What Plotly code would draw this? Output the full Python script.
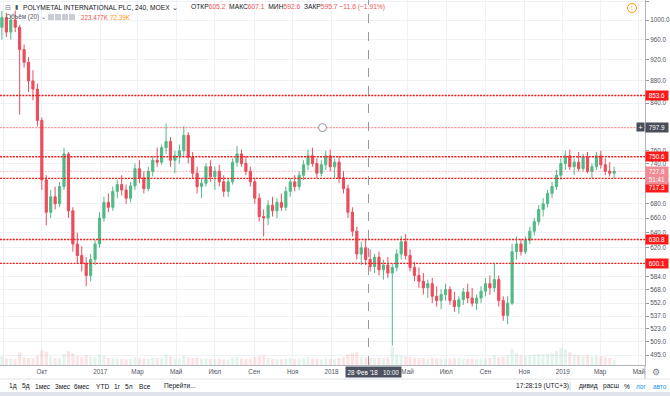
import numpy as np
import pandas as pd
import plotly.graph_objects as go

# ---------------- data (weekly approximation of the 4H chart) ----------------
first_bar = "2016-07-30"
opens = [985, 1005, 975, 1000, 985, 940, 915, 880, 865, 810, 715, 668, 690, 680, 705, 755, 670, 625, 610, 600,
         585, 605, 625, 660, 682, 675, 698, 708, 700, 688, 706, 732, 718, 702, 728, 745, 742, 765, 775, 745,
         752, 760, 785, 750, 725, 705, 710, 735, 720, 728, 712, 698, 712, 742, 755, 740, 728, 712, 688, 662,
         660, 678, 670, 682, 675, 698, 712, 705, 722, 738, 752, 740, 725, 738, 752, 735, 742, 718, 702, 668,
         642, 612, 620, 605, 596, 608, 592, 598, 588, 595, 612, 628, 610, 595, 585, 578, 570, 575, 560, 555,
         562, 568, 555, 548, 556, 565, 558, 552, 558, 566, 575, 570, 580, 555, 538, 552, 615, 625, 615, 630,
         642, 655, 672, 680, 695, 705, 722, 740, 752, 735, 742, 732, 750, 728, 735, 752, 738, 728, 725]
highs = [1020, 1015, 1010, 1020, 990, 950, 925, 900, 875, 815, 722, 700, 705, 712, 765, 758, 675, 640, 622, 608,
         612, 630, 668, 690, 695, 705, 715, 722, 708, 712, 740, 745, 728, 735, 752, 765, 770, 805, 782, 760,
         770, 800, 790, 758, 735, 718, 740, 745, 735, 738, 722, 718, 748, 768, 762, 752, 735, 718, 695, 672,
         685, 690, 688, 695, 705, 718, 722, 728, 745, 762, 765, 748, 745, 760, 762, 748, 752, 728, 708, 675,
         648, 628, 632, 618, 612, 615, 605, 608, 600, 618, 636, 638, 618, 602, 595, 588, 580, 582, 572, 568,
         575, 572, 565, 560, 570, 575, 570, 562, 572, 582, 585, 600, 585, 560, 560, 625, 635, 632, 635, 648,
         660, 678, 688, 700, 712, 730, 748, 760, 762, 748, 758, 755, 758, 740, 758, 760, 748, 742, 735]
lows = [960, 965, 960, 975, 820, 905, 860, 845, 800, 700, 650, 660, 672, 675, 700, 660, 615, 600, 590, 572,
        578, 598, 620, 655, 668, 670, 688, 692, 680, 682, 700, 710, 695, 698, 720, 735, 738, 755, 735, 725,
        740, 752, 740, 718, 695, 688, 705, 712, 700, 705, 690, 690, 708, 735, 735, 722, 705, 680, 655, 635,
        650, 662, 660, 670, 670, 690, 698, 700, 715, 730, 735, 718, 720, 730, 728, 718, 710, 695, 660, 635,
        605, 598, 598, 590, 588, 585, 580, 582, 505, 590, 605, 605, 590, 578, 570, 562, 558, 552, 548, 545,
        555, 550, 542, 540, 550, 552, 548, 544, 552, 560, 562, 565, 548, 532, 528, 550, 605, 610, 612, 625,
        636, 650, 662, 675, 688, 700, 715, 730, 730, 722, 728, 728, 725, 718, 730, 732, 722, 720, 718]
closes = [1005, 975, 1000, 985, 940, 915, 880, 865, 810, 715, 668, 690, 680, 705, 755, 670, 625, 610, 600, 585,
          605, 625, 660, 682, 675, 698, 708, 700, 688, 706, 732, 718, 702, 728, 745, 742, 765, 775, 745, 752,
          760, 785, 750, 725, 705, 710, 735, 720, 728, 712, 698, 712, 742, 755, 740, 728, 712, 688, 662, 660,
          678, 670, 682, 675, 698, 712, 705, 722, 738, 752, 740, 725, 738, 752, 735, 742, 718, 702, 668, 642,
          612, 620, 605, 596, 608, 592, 598, 588, 595, 612, 628, 610, 595, 585, 578, 570, 575, 560, 555, 562,
          568, 555, 548, 556, 565, 558, 552, 558, 566, 575, 570, 580, 555, 538, 552, 615, 625, 615, 630, 642,
          655, 672, 680, 695, 705, 722, 740, 752, 735, 742, 732, 750, 728, 735, 752, 738, 728, 725, 727.8]
volumes = [120, 95, 90, 85, 180, 110, 100, 95, 130, 210,
           190, 120, 100, 95, 160, 200, 170, 130, 110, 140,
           120, 110, 150, 130, 100, 95, 90, 85, 80, 85,
           110, 95, 90, 85, 100, 95, 105, 150, 120, 95,
           90, 130, 110, 100, 105, 90, 95, 85, 80, 85,
           80, 75, 100, 110, 90, 85, 90, 110, 130, 140,
           100, 85, 80, 85, 90, 95, 85, 90, 100, 110,
           95, 90, 85, 95, 90, 85, 100, 110, 150, 170,
           180, 120, 110, 100, 95, 105, 100, 110, 260, 150,
           130, 120, 110, 100, 95, 100, 90, 105, 95, 90,
           85, 90, 95, 100, 90, 85, 90, 85, 90, 95,
           100, 140, 110, 120, 140, 230, 170, 140, 130, 140,
           150, 160, 150, 160, 170, 200, 240, 220, 180, 150,
           140, 130, 140, 120, 130, 125, 110, 100, 72.39]

red_levels = [853.6, 750.6, 717.3, 630.8, 600.1]
pink_level = 797.9
last_price = 727.8
crosshair_time = "2018-02-28 10:00"
crosshair_text = "28 Фев '18   10:00"

price_ticks = [1040, 1000, 960, 920, 880, 840, 760, 740, 680, 660, 640, 620, 584, 568, 552, 537, 523, 509, 495]
month_ticks = ["2016-08-01", "2016-10-01", "2017-01-01", "2017-03-01", "2017-05-01", "2017-07-01",
               "2017-09-01", "2017-11-01", "2018-01-01", "2018-05-01", "2018-07-01", "2018-09-01",
               "2018-11-01", "2019-01-01", "2019-03-01", "2019-05-01"]
month_labels = ["Авг", "Окт", "2017", "Мар", "Май", "Июл", "Сен", "Ноя", "2018",
                "Май", "Июл", "Сен", "Ноя", "2019", "Мар", "Май"]
x_range = ["2016-07-27", "2019-05-10 17:00"]
y_range = [484.8, 1042.9]

# ---------------- figure ----------------
dates = pd.date_range(first_bar, periods=len(closes), freq="7D")
PW, PH = 645, 365
FONT = "Liberation Sans, Arial, sans-serif"
UP, DN = "#53b987", "#eb4d5c"
LEVEL_DASH = "2px,1.2px"


def px(p):
    return p / PW


def py(p):
    return (PH - p) / PH


vol_colors = [UP if c >= o else DN for o, c in zip(opens, closes)]

fig = go.Figure()
fig.add_trace(go.Bar(x=dates, y=volumes, marker=dict(color=vol_colors, line=dict(width=0)),
                     opacity=0.15, yaxis="y2", hoverinfo="skip"))

# horizontal level lines (drawn through the price axis)
for lv in red_levels:
    fig.add_trace(go.Scatter(x=x_range, y=[lv, lv], mode="lines", hoverinfo="skip",
                             line=dict(color="#ff1a1a", width=1.4, dash=LEVEL_DASH)))
fig.add_trace(go.Scatter(x=x_range, y=[pink_level, pink_level], mode="lines", hoverinfo="skip",
                         line=dict(color="rgba(255,40,40,0.5)", width=1.4, dash=LEVEL_DASH)))
fig.add_trace(go.Scatter(x=x_range, y=[last_price, last_price], mode="lines", hoverinfo="skip",
                         line=dict(color="rgba(235,77,92,0.4)", width=1, dash=LEVEL_DASH)))

fig.add_trace(go.Candlestick(x=dates, open=opens, high=highs, low=lows, close=closes,
                             increasing=dict(line=dict(color=UP, width=1), fillcolor=UP),
                             decreasing=dict(line=dict(color=DN, width=1), fillcolor=DN),
                             whiskerwidth=0))

shapes = []
# crosshair
shapes.append(dict(type="line", xref="x", x0=crosshair_time, x1=crosshair_time, yref="paper", y0=0, y1=1,
                   line=dict(color="#9598a1", width=1, dash="dash")))
# volume-legend icons
for ix in [48, 55, 62, 69]:
    shapes.append(dict(type="rect", xref="paper", yref="paper", x0=px(ix), x1=px(ix + 6),
                       y0=py(20), y1=py(14), fillcolor="#c9ccd3", line=dict(width=0)))
# orange alert circle
shapes.append(dict(type="circle", xref="paper", yref="paper", x0=px(627.5), x1=px(636.5),
                   y0=py(12.5), y1=py(3.5), line=dict(color="#ff9800", width=1)))
# separators / bottom bar
shapes.append(dict(type="line", xref="paper", yref="paper", x0=px(645), x1=px(645), y0=py(365), y1=py(379),
                   line=dict(color="#b2b5be", width=1)))
shapes.append(dict(type="line", xref="paper", yref="paper", x0=0, x1=px(670), y0=py(379), y1=py(379),
                   line=dict(color="#e0e3eb", width=1)))
shapes.append(dict(type="line", xref="paper", yref="paper", x0=px(570), x1=px(570), y0=py(382), y1=py(391),
                   line=dict(color="#d1d4dc", width=1)))
shapes.append(dict(type="rect", xref="paper", yref="paper", x0=0, x1=px(670), y0=py(396), y1=py(392),
                   fillcolor="#e0e3eb", line=dict(width=0)))

ann = []


def text(x, y, t, size=6.6, color="#131722", anchor="left"):
    ann.append(dict(x=px(x), y=py(y), xref="paper", yref="paper", text=t, showarrow=False,
                    xanchor=anchor, yanchor="middle", font=dict(size=size, color=color, family=FONT)))


text(3, 7, "⊟", 7, "#787b86")
text(13, 7, "▮", 6, "#50535e")
text(21, 7, "POLYMETAL INTERNATIONAL PLC, 240, MOEX ⌄", 6.7)
R = "#ef5350"
ohlc = ("ОТКР<span style='color:%s'>605.2</span>  МАКС<span style='color:%s'>607.1</span>  "
        "МИН<span style='color:%s'>592.6</span>  ЗАКР<span style='color:%s'>595.7 −11.6 (−1.91%%)</span>") % (R, R, R, R)
text(189, 7, ohlc, 6.7)
text(4, 17, "Объём (20) ⌄", 6.3, "#50535e")
text(79, 17, "223.477K", 6.3, "#ef5350")
text(108, 17, "72.39K", 6.3, "#ff9800")
text(632, 8, "!", 6, "#ff9800", "center")


# price labels on the right axis
def plabel(value, label, bg, shift=0, fg="white"):
    ann.append(dict(x=1, xref="paper", xanchor="left", y=np.log10(value), yref="y", yanchor="middle",
                    yshift=shift, text=label, showarrow=False, bgcolor=bg, width=21, height=8,
                    borderpad=0.5, font=dict(size=6.3, color=fg, family=FONT)))


for lv in red_levels:
    plabel(lv, f"{lv:.1f}", "#ff1a1a", -9 if lv == 717.3 else 0)
plabel(pink_level, f"{pink_level:.1f}", "#4a4e59")
plabel(last_price, f"{last_price:.1f}", "#f08a93")
plabel(last_price, "51:41", "#f08a93", -8)
text(640, 127.5, "+", 7, "white", "center")
ann[-1].update(bgcolor="#4a4e59", width=7, height=8, borderpad=0)

# crosshair time label
ann.append(dict(x=crosshair_time, xref="x", y=py(371.5), yref="paper", xshift=5, text=crosshair_text,
                showarrow=False, bgcolor="#4c525e", font=dict(size=6.3, color="white", family=FONT),
                xanchor="center", yanchor="middle", borderpad=1.5))
text(656, 372, "⚙", 9, "#787b86", "center")

# bottom toolbar
for t, x in [("1д", 7), ("5д", 20), ("1мес", 33), ("3мес", 53), ("6мес", 72), ("YTD", 94), ("1г", 112),
             ("5л", 123), ("Все", 137), ("Перейти...", 162), ("17:28:19 (UTC+3)", 514), ("дивид", 577),
             ("расш", 601), ("%", 622)]:
    text(x, 386, t, 6.6, "#131722")
text(634, 386, "лог", 6.4, "#2196f3")
text(651, 386, "авто", 6.4, "#2196f3")

# circle handle at the middle of the selected level line
mid = pd.Timestamp(x_range[0]) + (pd.Timestamp(x_range[1]) - pd.Timestamp(x_range[0])) / 2
fig.add_trace(go.Scatter(x=[mid], y=[pink_level], mode="markers", hoverinfo="skip",
                         marker=dict(size=8, color="white", line=dict(color="#9598a1", width=1))))

fig.update_layout(
    width=670, height=396, margin=dict(l=0, r=25, t=0, b=31),
    paper_bgcolor="white", plot_bgcolor="white", showlegend=False,
    shapes=shapes, annotations=ann, bargap=0.3,
    xaxis=dict(type="date", range=x_range, rangeslider=dict(visible=False),
               tickvals=month_ticks, ticktext=month_labels, tickangle=0,
               showgrid=True, gridcolor="#eef1f6", gridwidth=1, ticks="",
               showline=True, linecolor="#b2b5be", linewidth=1, zeroline=False,
               tickfont=dict(size=6.3, color="#50535e", family=FONT)),
    yaxis=dict(type="log", side="right", range=[np.log10(y_range[0]), np.log10(y_range[1])],
               tickvals=price_ticks, ticktext=[f"{v:.1f}" for v in price_ticks],
               ticks="outside", ticklen=3, tickcolor="#9598a1",
               showline=True, linecolor="#b2b5be", linewidth=1,
               showgrid=True, gridcolor="#eef1f6", zeroline=False,
               tickfont=dict(size=6.3, color="#50535e", family=FONT)),
    yaxis2=dict(overlaying="y", range=[0, max(volumes) * 20], visible=False),
)

fig.write_html("out.html", config=dict(displayModeBar=False),
               post_script="document.body.style.margin='0';document.body.style.overflow='hidden';")
